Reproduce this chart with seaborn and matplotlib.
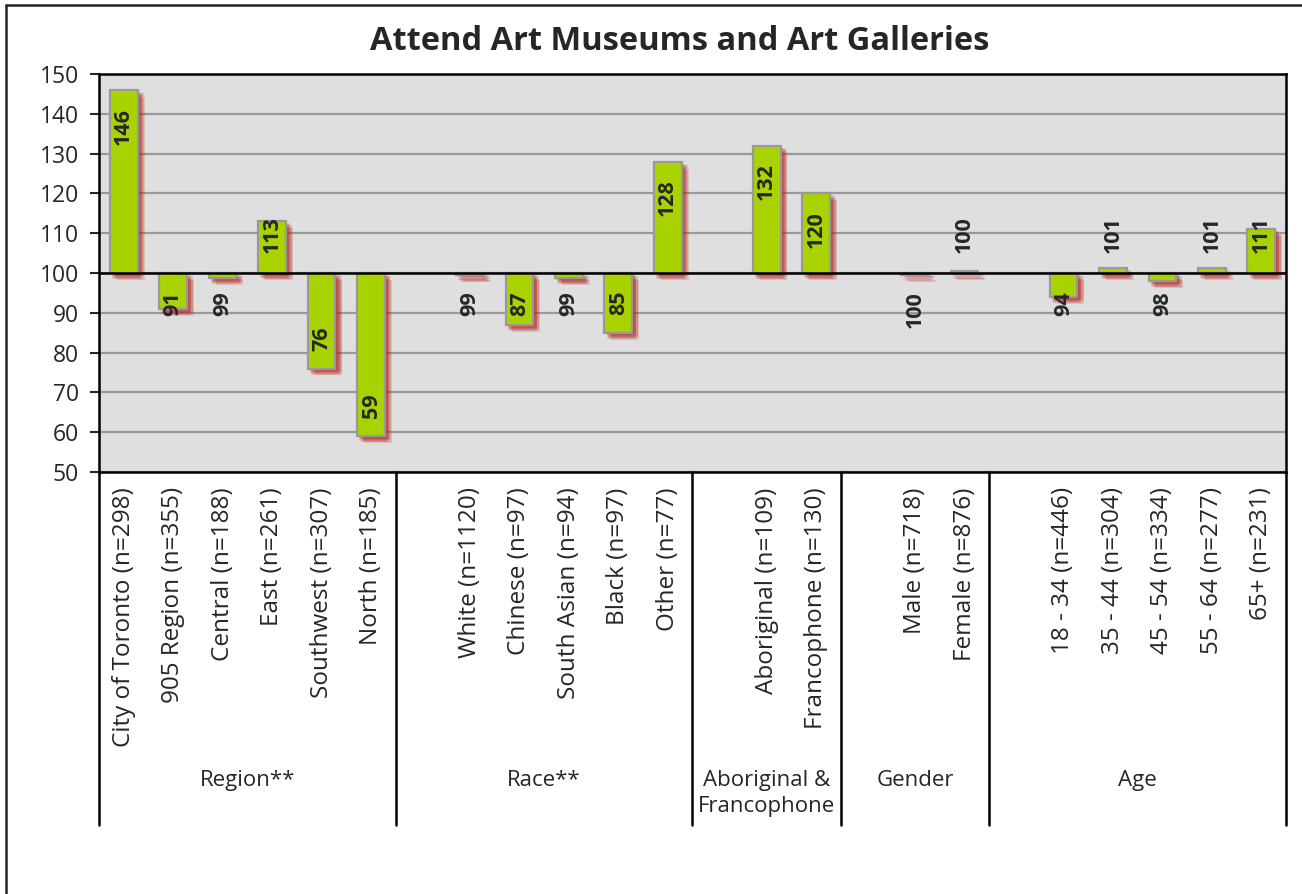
import numpy as np
import pandas as pd
import seaborn as sns
import matplotlib.pyplot as plt
import matplotlib.patheffects as pe
from matplotlib.lines import Line2D

# index values (100 = average)
region_labels = ["City of Toronto (n=298)", "905 Region (n=355)", "Central (n=188)",
                 "East (n=261)", "Southwest (n=307)", "North (n=185)"]
region_values = [146, 91, 98.8, 113, 76, 59]

race_labels = ["White (n=1120)", "Chinese (n=97)", "South Asian (n=94)",
               "Black (n=97)", "Other (n=77)"]
race_values = [99.4, 87, 98.7, 85, 128]

abfr_labels = ["Aboriginal (n=109)", "Francophone (n=130)"]
abfr_values = [132, 120]

gender_labels = ["Male (n=718)", "Female (n=876)"]
gender_values = [99.6, 100.4]

age_labels = ["18 - 34 (n=446)", "35 - 44 (n=304)", "45 - 54 (n=334)",
              "55 - 64 (n=277)", "65+ (n=231)"]
age_values = [94, 101.2, 98, 101.2, 111]

group_names = ["Region**", "Race**", "Aboriginal &\nFrancophone", "Gender", "Age"]
group_labels = [region_labels, race_labels, abfr_labels, gender_labels, age_labels]
group_values = [region_values, race_values, abfr_values, gender_values, age_values]

# lay out slots: one blank slot in front of every group but the first
rows = []
bounds = [-0.5]
pos = 0
for gi, (name, labs, vals) in enumerate(zip(group_names, group_labels, group_values)):
    if gi > 0:
        pos += 1
    for lab, v in zip(labs, vals):
        rows.append({"pos": pos, "label": lab, "value": v, "group": name})
        pos += 1
    bounds.append(pos - 0.5)
df = pd.DataFrame(rows)
df["delta"] = df["value"] - 100

sns.set_style("white")
plt.rcParams["font.family"] = ["Open Sans", "DejaVu Sans"]

fig = plt.figure(figsize=(13.02, 8.94), dpi=100)
ax = fig.add_axes([99 / 1302, 1 - 472 / 894, (1286 - 99) / 1302, (472 - 74) / 894])
ax.set_facecolor("#dfdfdf")

sns.barplot(data=df, x="pos", y="delta", native_scale=True, width=0.56,
            color="#a9d300", saturation=1, edgecolor="#999999", linewidth=1.6,
            bottom=100, ax=ax, zorder=3)

# soft red drop shadow built from several offset copies
shadow = [pe.SimplePatchShadow(offset=o, shadow_rgbFace=(0.72, 0.14, 0.10), alpha=0.17)
          for o in [(1, -1), (2, -2), (3, -3), (4, -4), (3, -1.5), (1.5, -3.5),
                    (4.5, -2.5), (2.5, -4.5), (5, -5)]]
for p in ax.patches:
    p.set_path_effects(shadow + [pe.Normal()])

ax.set_xlim(-0.5, pos - 0.5)
ax.set_ylim(50, 150)
ax.set_yticks(np.arange(50, 151, 10))
ax.yaxis.grid(True, color="#999999", linewidth=1.6)
ax.set_axisbelow(True)
ax.axhline(100, color="black", linewidth=1.8, zorder=4)
for s in ax.spines.values():
    s.set_color("black")
    s.set_linewidth(1.8)

ax.set_xticks(df["pos"])
ax.set_xticklabels(df["label"], rotation=90, fontsize=17.5)
ax.tick_params(axis="x", length=0, pad=11)
ax.tick_params(axis="y", left=True, length=6.5, width=1.5, pad=8, labelsize=16.5)
ax.set_xlabel("")
ax.set_ylabel("")

# data labels: inside the bar end when they fit, otherwise just outside
char_len = 2.85
pad = 4.5
for _, r in df.iterrows():
    v = r["value"]
    txt = f"{int(round(v))}"
    L = len(txt) * char_len
    if v >= 100:
        if v - pad - L >= 105:
            y, va = v - pad, "top"
        else:
            y, va = 105, "bottom"
    else:
        if v + pad + L <= 95.4:
            y, va = v + pad, "bottom"
        else:
            y, va = 95.4, "top"
    ax.text(r["pos"], y, txt, rotation=90, ha="center", va=va,
            fontsize=15.5, fontweight="bold", zorder=6)

# group separators and group names below the category labels
trans = ax.get_xaxis_transform()
for b in bounds:
    ax.add_line(Line2D([b, b], [0, -0.887], transform=trans, color="black",
                       linewidth=1.8, clip_on=False))
for name, lo, hi in zip(group_names, bounds[:-1], bounds[1:]):
    ax.text((lo + hi) / 2, -0.748, name, transform=trans, ha="center", va="top",
            fontsize=16, linespacing=1.3)

fig.text(0.522, 1 - 42 / 894, "Attend Art Museums and Art Galleries", ha="center",
         va="center", fontsize=23.5, fontweight="bold")

# outer chart border
fig.add_artist(Line2D([6 / 1302, 6 / 1302], [0, 1 - 5 / 894], transform=fig.transFigure,
                      color="#222222", linewidth=1.8))
fig.add_artist(Line2D([6 / 1302, 1], [1 - 5 / 894, 1 - 5 / 894], transform=fig.transFigure,
                      color="#222222", linewidth=1.8))

fig.savefig("out.png", dpi=100)
